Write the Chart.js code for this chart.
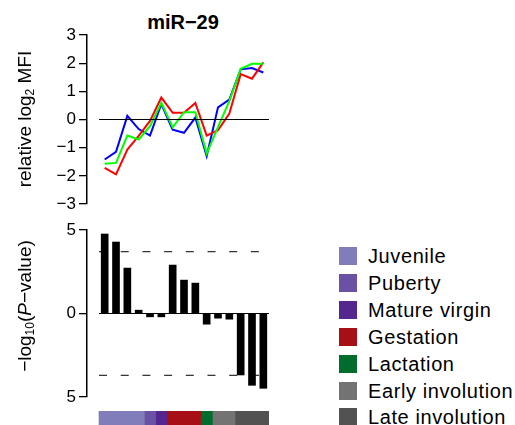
<!DOCTYPE html>
<html>
<head>
<meta charset="utf-8">
<script src="https://cdn.jsdelivr.net/npm/chart.js@4"></script>
<style>
  body { margin: 0; background: #fff; }
  #wrap { position: relative; width: 515px; height: 425px; overflow: hidden; font-family: "Liberation Sans", Arial, sans-serif; color: #000; }
  #wrap canvas { position: absolute; }
  .title { position: absolute; left: 133px; top: 10px; width: 100px; text-align: center; font-weight: bold; font-size: 20px; line-height: 24px; }
  .ytitle { position: absolute; width: 220px; height: 22px; line-height: 22px; text-align: center; font-size: 19px; transform: rotate(-90deg); white-space: nowrap; }
  .ytitle sub { font-size: 12px; vertical-align: -3px; }
  .leg { position: absolute; left: 339px; height: 18px; line-height: 18px; font-size: 20px; white-space: nowrap; letter-spacing: 0.6px; }
  .leg span { display: inline-block; width: 18px; height: 18px; vertical-align: top; margin-right: 11px; }
</style>
</head>
<body>
<div id="wrap">
  <div class="title">miR−29</div>
  <canvas id="topChart" width="280" height="222" style="left:0;top:0"></canvas>
  <canvas id="barChart" width="280" height="206" style="left:0;top:209px"></canvas>
  <canvas id="stripChart" width="280" height="14" style="left:0;top:411px"></canvas>
  <div class="ytitle" style="left:-85px;top:108px">relative log<sub>2</sub> MFI</div>
  <div class="ytitle" style="left:-85px;top:295px">−log<sub>10</sub>(<i>P</i>−value)</div>
  <div id="legend"></div>
</div>
<script>
// Dati
const samples = [1, 2, 3, 4, 5, 6, 7, 8, 9, 10, 11, 12, 13, 14, 15];
const mfiRed   = [-1.72, -1.95, -1.07, -0.58, -0.05, 0.78, 0.24, 0.24, 0.59, -0.57, -0.38, 0.21, 1.61, 1.45, 2.03];
const mfiGreen = [-1.57, -1.54, -0.57, -0.71, -0.24, 0.59, -0.28, 0.26, 0.26, -1.21, -0.26, 0.65, 1.80, 1.98, 1.98];
const mfiBlue  = [-1.42, -1.15, 0.13, -0.34, -0.57, 0.55, -0.36, -0.47, 0.07, -1.30, 0.43, 0.71, 1.78, 1.83, 1.67];
const pValues  = [4.76, 4.28, 2.72, 0.2, -0.2, -0.2, 2.9, 2.0, 1.82, -0.64, -0.28, -0.34, -3.68, -4.3, -4.48];
const threshold = 3.7;

const stages = ['Juvenile', 'Puberty', 'Mature virgin', 'Gestation', 'Lactation', 'Early involution', 'Late involution'];
const stageCounts = [4, 1, 1, 3, 1, 2, 3];
const stageColors = ['#807dba', '#6a51a3', '#54278f', '#a50f15', '#006d2c', '#737373', '#525252'];

const topTicks = [-3, -2, -1, 0, 1, 2, 3];
const barTicks = [-5, 0, 5];

const FONT = '"Liberation Sans", Arial, sans-serif';
const X_MIN = -0.56, X_MAX = 15.5;
const firstEdge = samples[0] - 0.5, lastEdge = samples[samples.length - 1] + 0.5;

function minus(v) {
    return v < 0 ? '\u2212' + Math.abs(v) : String(v);
}

function yAxis(min, max, ticks, fmt) {
    return {
        min: min,
        max: max,
        afterFit: function (s) { s.width = 87; },
        afterBuildTicks: function (s) { s.ticks = ticks.map(v => ({ value: v })); },
        ticks: { color: '#000', font: { family: FONT, size: 17 }, padding: 3, callback: fmt },
        grid: { drawOnChartArea: false, tickLength: 8, color: '#000', lineWidth: 1.3 },
        border: { display: true, color: '#000', width: 1.5 }
    };
}

function hLine(y, extra) {
    return Object.assign({
        type: 'line',
        data: [{ x: firstEdge, y: y }, { x: lastEdge, y: y }],
        borderColor: '#000',
        borderWidth: 1,
        pointRadius: 0
    }, extra || {});
}

function serie(values, color) {
    return {
        type: 'line',
        data: samples.map((s, i) => ({ x: s, y: values[i] })),
        borderColor: color,
        borderWidth: 2,
        pointRadius: 0,
        tension: 0
    };
}

const common = {
    responsive: false,
    animation: false,
    devicePixelRatio: 1,
    plugins: { legend: { display: false }, tooltip: { enabled: false }, title: { display: false } }
};

const xScale = { type: 'linear', display: false, offset: false, min: X_MIN, max: X_MAX };

// Grafico in alto: linee MFI (area 35..204)
new Chart(document.getElementById('topChart'), {
    type: 'line',
    data: {
        datasets: [
            hLine(0),
            serie(mfiGreen, '#00ff00'),
            serie(mfiRed, '#ff0000'),
            serie(mfiBlue, '#0000ff')
        ]
    },
    options: Object.assign({}, common, {
        layout: { padding: { left: 0, right: 11, top: 35, bottom: 18 } },
        scales: {
            x: xScale,
            y: yAxis(-3, 3, topTicks, minus)
        }
    })
});

// Grafico in basso: barre P-value (area 230..397)
new Chart(document.getElementById('barChart'), {
    type: 'bar',
    data: {
        datasets: [
            {
                type: 'bar',
                data: samples.map((s, i) => ({ x: s, y: pValues[i] })),
                backgroundColor: '#000',
                barThickness: 7
            },
            hLine(threshold, { borderDash: [8, 13.7] }),
            hLine(-threshold, { borderDash: [8, 13.7] }),
            hLine(0)
        ]
    },
    options: Object.assign({}, common, {
        layout: { padding: { left: 0, right: 11, top: 21, bottom: 18 } },
        scales: {
            x: xScale,
            y: yAxis(-5, 5, barTicks, v => String(Math.abs(v)))
        }
    })
});

// Striscia colorata degli stadi
let cum = firstEdge;
const stripSets = stages.map((st, i) => {
    const start = cum;
    cum += stageCounts[i];
    return {
        label: st,
        data: [[start, cum]],
        backgroundColor: stageColors[i],
        borderWidth: 0,
        barPercentage: 1,
        categoryPercentage: 1,
        grouped: false
    };
});

new Chart(document.getElementById('stripChart'), {
    type: 'bar',
    data: { labels: ['stadio'], datasets: stripSets },
    options: Object.assign({}, common, {
        indexAxis: 'y',
        layout: { padding: { left: 87, right: 11, top: 0, bottom: 0 } },
        scales: {
            x: xScale,
            y: { display: false }
        }
    })
});

// Legenda
let show = '';
stages.forEach((st, i) => {
    show += `<div class="leg" style="top:${247 + i * 26.9}px"><span style="background:${stageColors[i]}"></span>${st}</div>`;
});
document.getElementById('legend').innerHTML = show;
</script>
</body>
</html>
